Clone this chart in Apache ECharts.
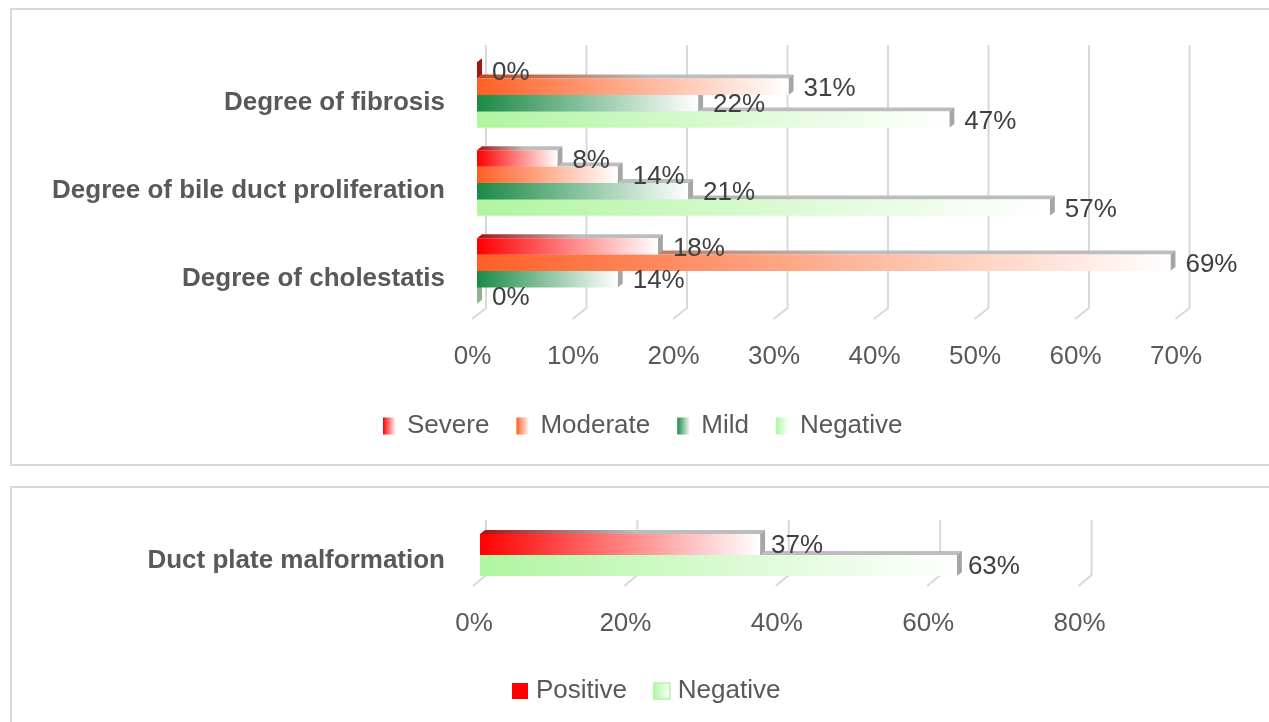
<!DOCTYPE html>
<html><head><meta charset="utf-8">
<script src="https://cdn.jsdelivr.net/npm/echarts@6/dist/echarts.min.js"></script>
<style>html,body{margin:0;padding:0;background:#fff}#c{width:1269px;height:722px}</style>
</head><body><div id="c"></div>
<script>
const categories = ['Degree of fibrosis', 'Degree of bile duct proliferation', 'Degree of cholestatis'];
const severe = [0, 8, 18];
const moderate = [31, 14, 69];
const mild = [22, 21, 14];
const negative = [47, 57, 0];
const topTicks = [0, 10, 20, 30, 40, 50, 60, 70];

const dpmCategories = ['Duct plate malformation'];
const positive = [37];
const dpmNegative = [63];
const bottomTicks = [0, 20, 40, 60, 80];

const FONT = "'Liberation Sans',Arial,sans-serif";
const G = echarts.graphic;

function grad(c) { return new G.LinearGradient(0, 0, 1, 0, [{offset: 0, color: c}, {offset: 1, color: '#ffffff'}]); }
function topGrad(c) { return new G.LinearGradient(0, 0, 1, 0, [{offset: 0, color: c}, {offset: 0.55, color: '#bdbdbd'}, {offset: 1, color: '#bdbdbd'}]); }

function barSeries(name, values, gi, idx, count, w, color, dark, lblDx, lblDy) {
  return {
    type: 'custom', name: name, xAxisIndex: gi, yAxisIndex: gi, z: 2,
    data: values.map((v, i) => [v, i]),
    encode: {x: 0, y: 1},
    renderItem: function (params, api) {
      const v = api.value(0), ci = api.value(1);
      const p0 = api.coord([0, ci]), p1 = api.coord([v, ci]);
      const x0 = p0[0], x1 = p1[0];
      const y0 = p0[1] - count * w / 2 + idx * w, y1 = y0 + w;
      const dx = 5, dy = 4;
      const base = (count - idx) * 10;
      const children = [];
      if (x1 > x0) {
        children.push({type: 'polygon', z2: base, shape: {points: [[x0, y0], [x1, y0], [x1 + dx, y0 - dy], [x0 + dx, y0 - dy]]}, style: {fill: topGrad(dark)}});
      }
      children.push({type: 'polygon', z2: base + 1, shape: {points: [[x1, y0], [x1 + dx, y0 - dy], [x1 + dx, y1 - dy], [x1, y1]]}, style: {fill: v === 0 ? dark : '#a6a6a6'}});
      if (x1 > x0) {
        children.push({type: 'rect', z2: base + 2, shape: {x: x0, y: y0, width: x1 - x0, height: w}, style: {fill: grad(color)}});
      }
      children.push({type: 'text', z2: 100, x: x1 + lblDx, y: (y0 + y1) / 2 + lblDy,
        style: {text: v + '%', fill: '#404040', font: '26px ' + FONT, align: 'left', verticalAlign: 'middle'}});
      return {type: 'group', children: children};
    }
  };
}

function gridSeries(gi, ticks, o) {
  return {
    type: 'custom', xAxisIndex: gi, yAxisIndex: gi, z: 1, silent: true,
    data: ticks.map(t => [t, 0]), encode: {x: 0, y: 1},
    renderItem: function (params, api) {
      const cs = params.coordSys;
      const x = api.coord([api.value(0), 0])[0];
      const yb = cs.y + cs.height;
      return {type: 'polyline', shape: {points: [[x + o.back, cs.y + o.top], [x + o.back, yb + o.bot], [x + o.front, yb + o.foot]]},
        style: {stroke: '#d9d9d9', lineWidth: 2, fill: null}};
    }
  };
}

const chart = echarts.init(document.getElementById('c'), null, {renderer: 'canvas'});
const axisLbl = {fontFamily: FONT, fontSize: 26, color: '#595959'};
chart.setOption({
  animation: false,
  backgroundColor: '#ffffff',
  graphic: [
    {type: 'rect', silent: true, z: -1, shape: {x: 11, y: 9, width: 1300, height: 456}, style: {fill: 'none', stroke: '#d9d9d9', lineWidth: 2}},
    {type: 'rect', silent: true, z: -1, shape: {x: 11, y: 487, width: 1300, height: 300}, style: {fill: 'none', stroke: '#d9d9d9', lineWidth: 2}}
  ],
  legend: [
    {left: 378, top: 408, icon: 'rect', itemWidth: 13, itemHeight: 17, itemGap: 27, selectedMode: false,
      textStyle: {fontFamily: FONT, fontSize: 26, color: '#595959', padding: [0, 0, 0, 6]},
      data: [
        {name: 'Severe', itemStyle: {color: grad('#ff0000')}},
        {name: 'Moderate', itemStyle: {color: grad('#ff5f24')}},
        {name: 'Mild', itemStyle: {color: grad('#1a8a45')}},
        {name: 'Negative', itemStyle: {color: grad('#b0f5a0')}}
      ]},
    {left: 507, top: 673, icon: 'rect', itemWidth: 16, itemHeight: 16, itemGap: 26, selectedMode: false,
      textStyle: {fontFamily: FONT, fontSize: 26, color: '#595959', padding: [0, 0, 0, 3]},
      data: [
        {name: 'Positive', itemStyle: {color: '#ff0000'}},
        {name: 'Negative', itemStyle: {color: grad('#b0f5a0'), borderColor: '#b0f5a0', borderWidth: 1.5}}
      ]}
  ],
  grid: [
    {left: 477, top: 51, width: 703.5, height: 264, outerBoundsMode: 'none', containLabel: false},
    {left: 480, top: 525, width: 605.6, height: 60, outerBoundsMode: 'none', containLabel: false}
  ],
  xAxis: [
    {gridIndex: 0, type: 'value', min: 0, max: 70, interval: 10, axisLine: {show: false}, axisTick: {show: false}, splitLine: {show: false},
      axisLabel: Object.assign({formatter: '{value}%', margin: 29, padding: [0, 9, 0, 0]}, axisLbl)},
    {gridIndex: 1, type: 'value', min: 0, max: 80, interval: 20, axisLine: {show: false}, axisTick: {show: false}, splitLine: {show: false},
      axisLabel: Object.assign({formatter: '{value}%', margin: 26, padding: [0, 12, 0, 0]}, axisLbl)}
  ],
  yAxis: [
    {gridIndex: 0, type: 'category', inverse: true, data: categories, axisLine: {show: false}, axisTick: {show: false},
      axisLabel: {fontFamily: FONT, fontWeight: 'bold', fontSize: 26, color: '#595959', margin: 32, verticalAlign: 'top', lineHeight: 16}},
    {gridIndex: 1, type: 'category', inverse: true, data: dpmCategories, axisLine: {show: false}, axisTick: {show: false},
      axisLabel: {fontFamily: FONT, fontWeight: 'bold', fontSize: 26, color: '#595959', margin: 35, verticalAlign: 'top', lineHeight: 12}}
  ],
  series: [
    gridSeries(0, topTicks, {back: 9, front: -5, top: -6, bot: -7, foot: 4}),
    barSeries('Severe', severe, 0, 0, 4, 16.4, '#ff0000', '#a31515', 15, 2),
    barSeries('Moderate', moderate, 0, 1, 4, 16.4, '#ff5f24', '#c0461a', 15, 2),
    barSeries('Mild', mild, 0, 2, 4, 16.4, '#1a8a45', '#0f5a2c', 15, 2),
    barSeries('Negative', negative, 0, 3, 4, 16.4, '#b0f5a0', '#8fb38f', 15, 2),
    gridSeries(1, bottomTicks, {back: 6, front: -7, top: -5, bot: -10, foot: 1}),
    barSeries('Positive', positive, 1, 0, 2, 21, '#ff0000', '#a31515', 11, 1),
    barSeries('Negative', dpmNegative, 1, 1, 2, 21, '#b0f5a0', '#8fb38f', 11, 1)
  ]
});
</script>
</body></html>
